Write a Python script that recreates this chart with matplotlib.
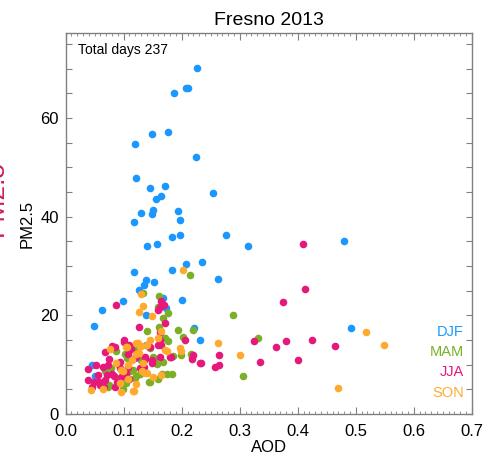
import numpy as np
import matplotlib
matplotlib.use("Agg")
import matplotlib.pyplot as plt
from matplotlib.ticker import MultipleLocator

plt.rcParams["font.family"] = ["Liberation Sans", "DejaVu Sans"]

# Data (AOD, PM2.5) per season
djf_aod = [0.226, 0.187, 0.207, 0.210, 0.119, 0.148, 0.176, 0.225, 0.122, 0.145,
           0.171, 0.254, 0.156, 0.164, 0.150, 0.130, 0.149, 0.194, 0.118, 0.197,
           0.276, 0.183, 0.197, 0.314, 0.141, 0.157, 0.235, 0.207, 0.118, 0.183,
           0.263, 0.138, 0.135, 0.152, 0.127, 0.168, 0.099, 0.200, 0.480, 0.492,
           0.232, 0.173, 0.138, 0.221, 0.062, 0.048, 0.045, 0.050, 0.120, 0.138]
djf_pm = [70.1, 65.1, 66.1, 66.1, 54.8, 56.8, 57.1, 52.1, 47.8, 45.7,
          46.3, 44.7, 43.6, 44.1, 41.4, 40.7, 40.5, 41.1, 38.9, 39.4,
          36.3, 35.9, 36.3, 34.0, 34.1, 34.4, 30.7, 30.3, 28.7, 29.1,
          27.4, 27.2, 26.1, 26.7, 25.1, 23.5, 22.9, 23.1, 35.0, 17.4,
          15.0, 21.5, 20.0, 17.4, 21.1, 17.9, 9.9, 7.8, 11.4, 14.0]

mam_aod = [0.215, 0.133, 0.161, 0.160, 0.176, 0.288, 0.331, 0.306, 0.141, 0.194,
           0.219, 0.202, 0.198, 0.216, 0.087, 0.078, 0.075, 0.104, 0.105, 0.161,
           0.118, 0.102, 0.150, 0.067, 0.111, 0.119, 0.145, 0.104, 0.099, 0.166,
           0.174, 0.167, 0.170, 0.146, 0.185, 0.153, 0.158, 0.167, 0.116, 0.121,
           0.128, 0.144, 0.090, 0.160, 0.130, 0.176, 0.183, 0.218, 0.073, 0.172]
mam_pm = [28.2, 24.5, 24.0, 21.7, 20.4, 20.1, 15.5, 7.7, 16.8, 17.0,
          17.0, 15.6, 12.0, 12.2, 12.7, 9.3, 5.9, 6.2, 11.3, 17.6,
          13.4, 12.1, 11.6, 8.8, 8.8, 7.2, 6.5, 7.7, 5.1, 8.2,
          8.1, 19.5, 15.5, 13.3, 11.7, 11.1, 10.1, 10.6, 8.9, 7.8,
          8.2, 6.4, 10.2, 7.0, 11.0, 14.8, 8.2, 11.5, 5.5, 15.3]

jja_aod = [0.409, 0.413, 0.375, 0.324, 0.363, 0.379, 0.425, 0.464, 0.265, 0.234,
           0.257, 0.265, 0.335, 0.400, 0.164, 0.087, 0.172, 0.206, 0.182, 0.179,
           0.220, 0.218, 0.126, 0.163, 0.100, 0.068, 0.075, 0.093, 0.052, 0.038,
           0.065, 0.079, 0.072, 0.084, 0.039, 0.048, 0.058, 0.067, 0.095, 0.059,
           0.085, 0.104, 0.073, 0.108, 0.080, 0.100, 0.112, 0.145, 0.122, 0.137,
           0.094, 0.128, 0.149, 0.163, 0.089, 0.110, 0.159, 0.164, 0.137, 0.148,
           0.135, 0.108, 0.110, 0.160, 0.066, 0.045, 0.055, 0.085, 0.163, 0.170,
           0.163, 0.232]
jja_pm = [34.4, 25.4, 22.6, 14.7, 13.6, 14.7, 14.9, 13.8, 12.0, 10.4,
          9.5, 9.9, 10.5, 11.0, 22.8, 22.1, 18.4, 14.9, 11.5, 11.6,
          12.0, 11.1, 17.7, 16.6, 14.9, 12.5, 11.1, 10.6, 9.9, 9.1,
          9.6, 8.2, 7.9, 7.6, 6.9, 6.5, 6.4, 6.9, 7.4, 5.9,
          5.5, 8.4, 9.9, 12.1, 13.8, 14.5, 13.1, 13.6, 11.6, 11.6,
          9.3, 9.3, 10.9, 11.6, 6.5, 14.0, 14.0, 14.0, 11.1, 10.3,
          9.6, 9.6, 7.1, 21.0, 5.5, 5.5, 8.0, 13.5, 15.0, 22.0,
          21.7, 10.4]

son_aod = [0.203, 0.130, 0.517, 0.549, 0.262, 0.300, 0.470, 0.149, 0.197, 0.198,
           0.076, 0.104, 0.086, 0.099, 0.044, 0.064, 0.095, 0.094, 0.107, 0.126,
           0.133, 0.105, 0.122, 0.128, 0.121, 0.095, 0.132, 0.134, 0.107, 0.140,
           0.117, 0.165, 0.164, 0.145, 0.172, 0.126, 0.136, 0.121, 0.116, 0.160,
           0.115, 0.150, 0.141, 0.124, 0.130, 0.174]
son_pm = [29.1, 24.4, 16.6, 14.0, 14.3, 11.9, 5.2, 19.8, 13.4, 12.8,
          13.1, 13.6, 10.3, 8.7, 4.9, 5.0, 4.4, 6.2, 9.9, 20.7,
          21.9, 13.5, 14.3, 13.8, 12.2, 8.9, 8.7, 10.3, 7.1, 8.3,
          4.6, 7.9, 16.8, 15.0, 12.9, 12.3, 8.4, 6.1, 4.7, 15.5,
          11.0, 7.5, 14.0, 14.3, 13.8, 12.7]

seasons = ["DJF", "MAM", "JJA", "SON"]
colors = ["#1A98FF", "#7AAF26", "#E6197A", "#FFAA2E"]
series = [(djf_aod, djf_pm), (mam_aod, mam_pm), (jja_aod, jja_pm), (son_aod, son_pm)]

fig = plt.figure(figsize=(4.84, 4.54), dpi=100)
ax = fig.add_axes([0.1357, 0.0881, 0.839, 0.8392])

for (xs, ys), c in zip(series, colors):
    ax.scatter(xs, ys, s=30, color=c, linewidths=0, zorder=3)

ax.set_xlim(0, 0.7)
ax.set_ylim(0, 77.2)
ax.xaxis.set_minor_locator(MultipleLocator(0.01))
ax.yaxis.set_major_locator(MultipleLocator(20))
ax.yaxis.set_minor_locator(MultipleLocator(5))
xt = np.arange(0, 0.71, 0.1)
ax.set_xticks(xt)
ax.set_xticklabels([f"{v:.1f}" for v in xt])

gray = "#808080"
for sp in ax.spines.values():
    sp.set_color(gray)
    sp.set_linewidth(1)
ax.tick_params(axis="x", which="major", direction="in", top=True, length=5, width=0.8,
               color=gray, labelsize=12, pad=7)
ax.tick_params(axis="x", which="minor", direction="in", top=True, length=2.5, width=0.6,
               color=gray)
ax.tick_params(axis="y", which="both", direction="in", right=True, length=4, width=0.8,
               color=gray, labelsize=12, pad=5)

ax.set_xlabel("AOD", fontsize=12, labelpad=1)
ax.set_ylabel("PM2.5", fontsize=12, labelpad=4)
ax.set_title("Fresno 2013", fontsize=14, pad=6)

ax.text(0.03, 0.975, "Total days 237", transform=ax.transAxes, fontsize=10,
        ha="left", va="top")

for i, (name, c) in enumerate(zip(seasons, colors)):
    ax.text(0.98, 0.215 - i * 0.053, name, transform=ax.transAxes, color=c,
            fontsize=10.5, ha="right", va="center")

fig.text(8 / 484, 1 - 198 / 454, "PM2.5", rotation=90, color="#CC1F5A",
         fontsize=19, ha="right", va="center")

fig.savefig("out.png", dpi=100)
